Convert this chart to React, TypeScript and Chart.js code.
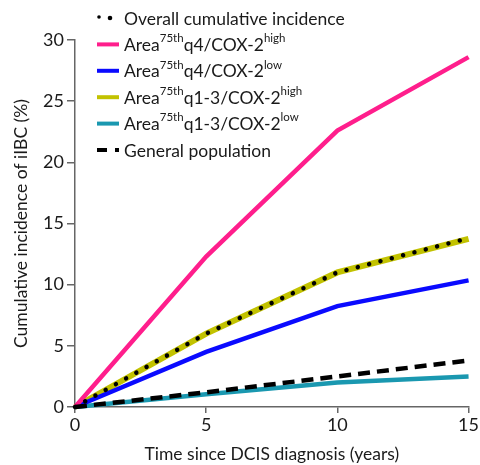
import React, { useEffect, useRef } from 'react';
import { Chart, registerables } from 'chart.js';

Chart.register(...registerables);

const FONT = 'Lato, "Open Sans", sans-serif';

// ---- data ----
const years = [0, 5, 10, 15];
const overallIncidence = [0, 6.0, 11.0, 13.8];
const q4HighIncidence = [0, 12.3, 22.6, 28.6];
const q4LowIncidence = [0, 4.5, 8.25, 10.35];
const q13HighIncidence = [0, 6.0, 11.0, 13.75];
const q13LowIncidence = [0, 1.05, 2.0, 2.5];
const generalPopIncidence = [0, 1.2, 2.5, 3.8];

const seriesLabels = [
  'Overall cumulative incidence',
  'Area<sup>75th</sup>q4/COX-2<sup>high</sup>',
  'Area<sup>75th</sup>q4/COX-2<sup>low</sup>',
  'Area<sup>75th</sup>q1-3/COX-2<sup>high</sup>',
  'Area<sup>75th</sup>q1-3/COX-2<sup>low</sup>',
  'General population',
];
const xTickValues = [0, 5, 10, 15];
const yTickValues = [0, 5, 10, 15, 20, 25, 30];
const xTitle = 'Time since DCIS diagnosis (years)';
const yTitle = 'Cumulative incidence of iIBC (%)';

const seriesValues = [
  overallIncidence,
  q4HighIncidence,
  q4LowIncidence,
  q13HighIncidence,
  q13LowIncidence,
  generalPopIncidence,
];

// styles
const colors = ['#000000', '#FF1E8C', '#0A0AFF', '#C2C200', '#1A98B0', '#000000'];
const widths = [4.5, 4.5, 4.5, 6, 4.5, 4.5];
const dashes: number[][] = [[0.01, 11.7], [], [], [], [], [12, 7]];
const caps = ['round', 'butt', 'butt', 'butt', 'butt', 'butt'];
const drawOrder = [0, 2, 3, 4, 5, 1];

function parseLabel(s: string): { t: string; sup: boolean }[] {
  const parts: { t: string; sup: boolean }[] = [];
  const re = /<sup>(.*?)<\/sup>/g;
  let last = 0;
  let m: RegExpExecArray | null;
  while ((m = re.exec(s))) {
    if (m.index > last) parts.push({ t: s.slice(last, m.index), sup: false });
    parts.push({ t: m[1], sup: true });
    last = m.index + m[0].length;
  }
  if (last < s.length) parts.push({ t: s.slice(last), sup: false });
  return parts;
}

const legendPlugin = {
  id: 'customLegend',
  afterDraw(chart: any) {
    const ctx = chart.ctx as CanvasRenderingContext2D;
    ctx.save();
    seriesLabels.forEach((label, i) => {
      const y = 18 + i * 26.4;
      const x0 = 97;
      const x1 = 119;
      ctx.strokeStyle = colors[i];
      ctx.fillStyle = colors[i];
      if (i === 0) {
        ctx.beginPath();
        ctx.arc(99, y - 1, 1.8, 0, Math.PI * 2);
        ctx.fill();
        ctx.beginPath();
        ctx.arc(110, y, 2.3, 0, Math.PI * 2);
        ctx.fill();
      } else {
        ctx.lineWidth = 4;
        ctx.setLineDash(dashes[i].length ? [10, 8] : []);
        ctx.lineCap = 'butt';
        ctx.beginPath();
        ctx.moveTo(x0, y);
        ctx.lineTo(x1, y);
        ctx.stroke();
        ctx.setLineDash([]);
      }
      let x = 124;
      ctx.fillStyle = '#1a1a1a';
      ctx.textBaseline = 'middle';
      ctx.textAlign = 'left';
      for (const p of parseLabel(label)) {
        ctx.font = p.sup ? `11.5px ${FONT}` : `17.5px ${FONT}`;
        ctx.fillText(p.t, x, p.sup ? y - 6 : y + 1);
        x += ctx.measureText(p.t).width;
      }
    });
    ctx.restore();
  },
};

export default function App() {
  const ref = useRef<HTMLCanvasElement>(null);
  useEffect(() => {
    if (!ref.current) return;
    const datasets = seriesValues.map((vals, i) => ({
      label: seriesLabels[i],
      data: vals.map((v, j) => ({ x: years[j], y: v })),
      borderColor: colors[i],
      backgroundColor: colors[i],
      borderWidth: widths[i],
      borderDash: dashes[i],
      borderCapStyle: caps[i] as any,
      pointRadius: 0,
      tension: 0,
      fill: false,
      clip: false as any,
      order: drawOrder[i],
    }));
    const chart = new Chart(ref.current, {
      type: 'line',
      data: { datasets },
      options: {
        animation: false,
        responsive: false,
        layout: { padding: { top: 40, right: 9, left: 0, bottom: 0 } },
        plugins: { legend: { display: false }, tooltip: { enabled: false } },
        scales: {
          x: {
            type: 'linear',
            min: 0,
            max: 15,
            afterFit: (s: any) => { s.height = 58; },
            afterBuildTicks: (s: any) => { s.ticks = xTickValues.map((v) => ({ value: v })); },
            grid: { drawOnChartArea: false, drawTicks: true, tickLength: 6, color: '#666', lineWidth: 1.5 },
            border: { display: true, color: '#666', width: 1.5 },
            ticks: { color: '#1a1a1a', font: { family: FONT, size: 18 }, padding: 1, maxRotation: 0 },
            title: { display: true, text: xTitle, color: '#1a1a1a', font: { family: FONT, size: 17.5 }, padding: { top: 6, bottom: 0 } },
          },
          y: {
            type: 'linear',
            min: 0,
            max: 30,
            afterFit: (s: any) => { s.width = 75; },
            afterBuildTicks: (s: any) => { s.ticks = yTickValues.map((v) => ({ value: v })); },
            grid: { drawOnChartArea: false, drawTicks: true, tickLength: 8, color: '#666', lineWidth: 1.5 },
            border: { display: true, color: '#666', width: 1.5 },
            ticks: { color: '#1a1a1a', font: { family: FONT, size: 18 }, padding: 3 },
            title: { display: true, text: yTitle, color: '#1a1a1a', font: { family: FONT, size: 17.5 }, padding: { top: 11, bottom: 4 } },
          },
        },
      },
      plugins: [legendPlugin],
    });
    return () => chart.destroy();
  }, []);
  return (
    <div style={{ position: 'absolute', left: 0, top: 0, width: 480, height: 465, background: '#fff' }}>
      <canvas ref={ref} width={480} height={465} />
    </div>
  );
}
